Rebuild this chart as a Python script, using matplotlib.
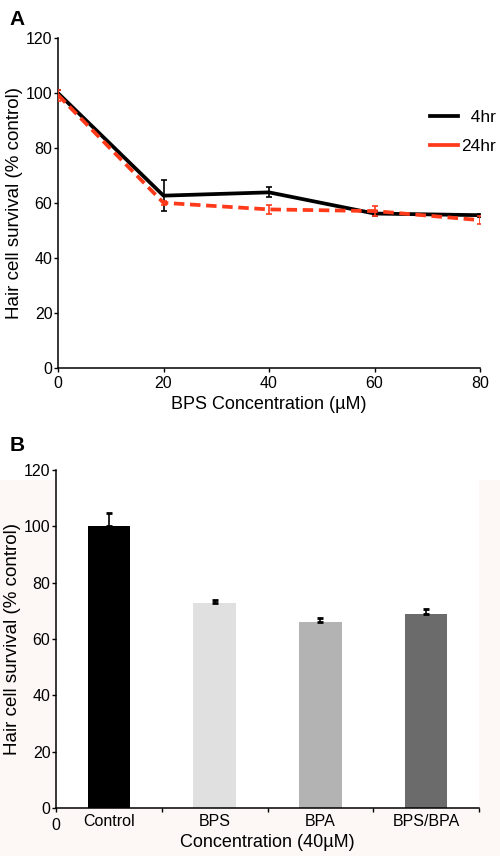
import matplotlib
matplotlib.use('Agg')
import matplotlib.pyplot as plt
from matplotlib.patches import Rectangle
from matplotlib.lines import Line2D
import numpy as np

plt.rcParams['font.family'] = ['Liberation Sans', 'DejaVu Sans']

# panel A: time course
conc = [0, 20, 40, 60, 80]
surv_4hr = [100.0, 62.7, 63.9, 56.2, 55.6]
err_4hr = [1.0, 5.7, 1.8, 0.8, 0.6]
surv_24hr = [99.3, 60.1, 57.7, 57.1, 53.8]
err_24hr = [2.0, 0.8, 1.6, 1.8, 1.4]

# panel B: 40uM comparison
groups = ['Control', 'BPS', 'BPA', 'BPS/BPA']
surv_b = [100.0, 72.7, 66.0, 68.8]
err_b = [4.6, 1.1, 1.3, 1.9]
bar_colors = ['#000000', '#e0e0e0', '#b3b3b3', '#6b6b6b']

RED = '#ff3a1a'
LW = 2.7

fig = plt.figure(figsize=(5.0, 8.56), dpi=100)
# faint tinted background behind the lower panel
fig.patches.append(Rectangle((0, 0), 1, (856 - 480) / 856, transform=fig.transFigure,
                             facecolor='#fdf7f5', edgecolor='none', zorder=-10))


def style_axes(ax):
    for side in ['top', 'right']:
        ax.spines[side].set_visible(False)
    for side in ['left', 'bottom']:
        ax.spines[side].set_linewidth(1.1)
    ax.tick_params(direction='out', length=3, width=1, labelsize=11.5, pad=1)
    ax.set_ylim(0, 120)
    ax.set_yticks(np.arange(0, 121, 20))


# ---- panel A
ax1 = fig.add_axes([0.116, 0.570, 0.844, 0.3855])
ax1.errorbar(conc, surv_4hr, yerr=err_4hr, color='black', lw=LW, ecolor='black',
             elinewidth=1.2, capsize=2.5, capthick=1.2, zorder=3)
ax1.errorbar(conc, surv_24hr, yerr=err_24hr, color=RED, lw=LW, ecolor=RED,
             elinewidth=1.2, capsize=2.5, capthick=1.2, dashes=(2.8, 1.5), zorder=4)
style_axes(ax1)
ax1.set_xlim(0, 80)
ax1.set_xticks(conc)
ax1.tick_params(axis='x', pad=3)
ax1.set_xlabel('BPS Concentration (\u00b5M)', fontsize=13, labelpad=3)
ax1.set_ylabel('Hair cell survival (% control)', fontsize=13.5, labelpad=2)
handles = [Line2D([], [], color='black', lw=LW), Line2D([], [], color=RED, lw=LW)]
ax1.legend(handles, ['  4hr', '24hr'], loc='upper left', bbox_to_anchor=(0.845, 0.83),
           frameon=False, fontsize=12.5, handlelength=1.6, handletextpad=0.2,
           labelspacing=0.8)
fig.text(0.018, 0.988, 'A', fontsize=15, fontweight='bold', va='top')

# ---- panel B
ax2 = fig.add_axes([0.112, 0.0561, 0.846, 0.3949])
x = np.arange(len(groups))
ax2.bar(x, surv_b, width=0.4, color=bar_colors, zorder=2)
ax2.errorbar(x, surv_b, yerr=[np.zeros(len(err_b)), err_b], fmt='none', ecolor='black',
             elinewidth=1.2, capsize=2.5, capthick=2, zorder=3)
style_axes(ax2)
ax2.set_xlim(-0.5, 3.5)
ax2.set_xticks([-0.5, 0.5, 1.5, 2.5, 3.5])
ax2.set_xticklabels(['0', '', '', '', ''])
ax2.set_xticks(x, minor=True)
ax2.set_xticklabels(groups, minor=True)
ax2.tick_params(axis='x', which='minor', length=0, labelsize=11.5, pad=4)
ax2.tick_params(axis='x', which='major', pad=4)
ax2.set_xlabel('Concentration (40\u00b5M)', fontsize=13, labelpad=1)
ax2.set_ylabel('Hair cell survival (% control)', fontsize=13.5, labelpad=2)
fig.text(0.02, 0.480, 'B', fontsize=15, fontweight='bold', va='center')

plt.savefig('out.png', dpi=100)
